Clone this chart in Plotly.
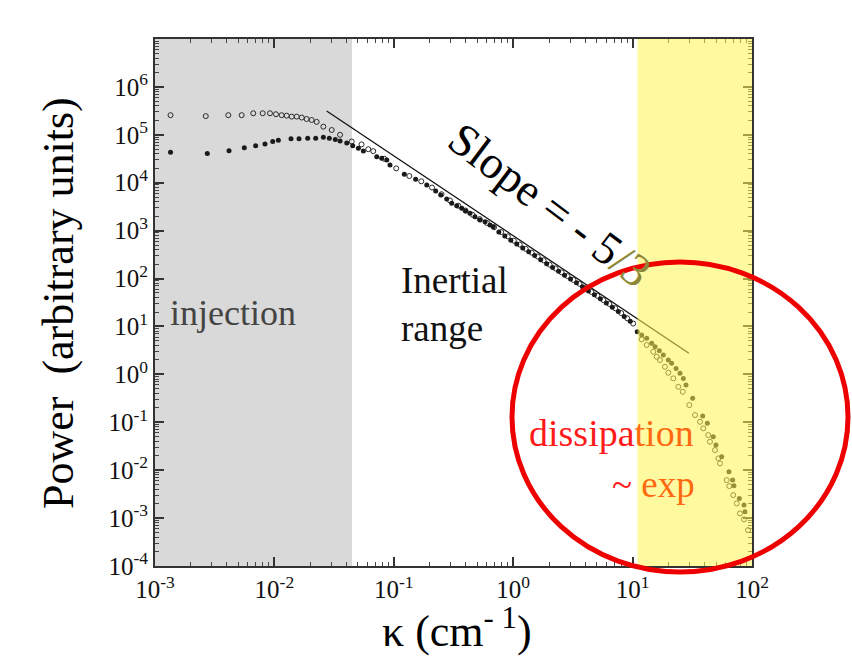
import numpy as np
import plotly.graph_objects as go

# ---- spectra, stored as log10(kappa) / log10(power) ----
FILLED_LOG_K = [
    -2.87, -2.562, -2.38, -2.252, -2.157, -2.079, -2.014, -1.967, -1.861, -1.794,
    -1.721, -1.654, -1.59, -1.54, -1.49, -1.45, -1.394, -1.344, -1.297, -1.255,
    -1.143, -1.101, -1.059, -1.032, -0.912, -0.817, -0.724, -0.649, -0.607, -0.557,
    -0.515, -0.473, -0.431, -0.398, -0.362, -0.320, -0.278, -0.236, -0.194, -0.167,
    -0.12, -0.07, -0.02, 0.03, 0.08, 0.13, 0.18, 0.23, 0.28, 0.33,
    0.38, 0.43, 0.48, 0.53, 0.58, 0.63, 0.68, 0.73, 0.78, 0.83,
    0.88, 0.93, 0.98,
    1.039, 1.076, 1.118, 1.160, 1.188, 1.224, 1.257, 1.299, 1.327, 1.364,
    1.397, 1.425, 1.447, 1.503, 1.587, 1.626, 1.676, 1.698, 1.746, 1.807,
    1.838, 1.849, 1.894, 1.933, 1.941,
]
FILLED_LOG_P = [
    4.635, 4.61, 4.67, 4.73, 4.77, 4.81, 4.86, 4.885, 4.92, 4.92,
    4.93, 4.93, 4.95, 4.93, 4.90, 4.87, 4.83, 4.77, 4.72, 4.66,
    4.543, 4.509, 4.474, 4.37, 4.175, 4.071, 3.952, 3.827, 3.743, 3.660,
    3.570, 3.520, 3.466, 3.409, 3.361, 3.290, 3.221, 3.186, 3.117, 3.081,
    2.97, 2.89, 2.80, 2.72, 2.64, 2.56, 2.48, 2.39, 2.31, 2.23,
    2.15, 2.07, 1.99, 1.91, 1.83, 1.74, 1.66, 1.58, 1.49, 1.40,
    1.31, 1.21, 1.11,
    0.889, 0.820, 0.752, 0.647, 0.576, 0.493, 0.403, 0.299, 0.230, 0.125,
    0.021, -0.084, -0.223, -0.501, -0.871, -1.023, -1.303, -1.476, -1.720, -2.033,
    -2.207, -2.326, -2.589, -2.729, -2.868,
]

OPEN_LOG_K = [
    -2.87, -2.575, -2.386, -2.274, -2.177, -2.098, -2.037, -1.987, -1.939, -1.897,
    -1.855, -1.813, -1.771, -1.73, -1.688, -1.646, -1.59, -1.52, -1.45, -1.353,
    -1.27, -1.214, -1.172,
    -1.08, -0.98, -0.87, -0.77, -0.68, -0.60, -0.53, -0.46, -0.40, -0.34,
    -0.28, -0.22, -0.16, -0.10, -0.045, 0.005, 0.055, 0.105, 0.155, 0.205,
    0.255, 0.305, 0.355, 0.405, 0.455, 0.505, 0.555, 0.605, 0.655, 0.705,
    0.755, 0.805, 0.855, 0.905, 0.955, 1.005,
    1.076, 1.118, 1.173, 1.202, 1.229, 1.271, 1.299, 1.341, 1.383, 1.420,
    1.475, 1.523, 1.565, 1.592, 1.634, 1.648, 1.690, 1.718, 1.732, 1.788,
    1.810, 1.843, 1.872, 1.899, 1.933, 1.967,
]
OPEN_LOG_P = [
    5.41, 5.39, 5.41, 5.41, 5.45, 5.45, 5.45, 5.43, 5.41, 5.40,
    5.38, 5.38, 5.36, 5.33, 5.31, 5.27, 5.17, 5.10, 5.00, 4.86,
    4.80, 4.70, 4.66,
    4.50, 4.30, 4.14, 4.03, 3.90, 3.76, 3.63, 3.52, 3.42, 3.33,
    3.24, 3.16, 3.07, 2.97, 2.88, 2.79, 2.71, 2.62, 2.54, 2.46,
    2.38, 2.29, 2.21, 2.13, 2.05, 1.97, 1.89, 1.80, 1.72, 1.64,
    1.55, 1.47, 1.38, 1.28, 1.17, 1.06,
    0.731, 0.612, 0.472, 0.367, 0.299, 0.159, 0.033, -0.084, -0.259, -0.363,
    -0.641, -0.850, -0.990, -1.127, -1.267, -1.407, -1.580, -1.754, -1.858, -2.207,
    -2.332, -2.520, -2.693, -2.902, -3.027, -3.251,
]

# Kolmogorov reference line: P = A * k^(-5/3)
SLOPE = -5.0 / 3.0
LINE_LOG_A = 2.894            # log10 of P at k = 1 cm^-1
LINE_K = [0.0274, 29.6]       # extent of the reference line

# shaded wavenumber bands (cm^-1)
INJECTION_BAND = [1e-3, 0.0447]
DISSIPATION_BAND = [11.0, 100.0]

X_TICKS = [-3, -2, -1, 0, 1, 2]
Y_TICKS = [-4, -3, -2, -1, 0, 1, 2, 3, 4, 5, 6]

SERIF = "Liberation Serif, Times New Roman, serif"

W, H = 852, 659
ML, MR, MT, MB = 155, 100, 39, 93
PW, PH = W - ML - MR, H - MT - MB


def fx(px):
    return (px - ML) / PW


def fy(py):
    return (H - MB - py) / PH


fk = 10 ** np.array(FILLED_LOG_K)
fp = 10 ** np.array(FILLED_LOG_P)
ok = 10 ** np.array(OPEN_LOG_K)
op = 10 ** np.array(OPEN_LOG_P)
line_k = np.array(LINE_K)
line_p = 10 ** LINE_LOG_A * line_k ** SLOPE

fig = go.Figure()
fig.add_trace(go.Scatter(
    x=ok, y=op, mode="markers",
    marker=dict(symbol="circle-open", size=5, color="#2a2a2a", line=dict(width=1)),
    showlegend=False, hoverinfo="skip"))
fig.add_trace(go.Scatter(
    x=fk, y=fp, mode="markers",
    marker=dict(symbol="circle", size=5, color="#1a1a1a"),
    showlegend=False, hoverinfo="skip"))
fig.add_trace(go.Scatter(
    x=line_k, y=line_p, mode="lines",
    line=dict(color="#111111", width=1.3),
    showlegend=False, hoverinfo="skip"))

# injection band (behind the data)
fig.add_shape(type="rect", xref="x", yref="paper",
              x0=INJECTION_BAND[0], x1=INJECTION_BAND[1],
              y0=0, y1=1, fillcolor="#d9d9d9", line_width=0, layer="below")
# dissipation band (tinted over the data)
fig.add_shape(type="rect", xref="x", yref="paper",
              x0=DISSIPATION_BAND[0], x1=DISSIPATION_BAND[1],
              y0=0, y1=1, fillcolor="rgb(255,245,80)", opacity=0.55,
              line_width=0, layer="above")
# red ellipse around the dissipation range
fig.add_shape(type="circle", xref="paper", yref="paper",
              x0=fx(512), x1=fx(848), y0=fy(572), y1=fy(262),
              line=dict(color="#ee0000", width=5), layer="above")

axis_common = dict(
    type="log", showgrid=False, zeroline=False,
    showline=True, linecolor="#333333", linewidth=2, mirror="ticks",
    ticks="inside", ticklen=9, tickwidth=1.5, tickcolor="#333333",
    tickfont=dict(family=SERIF, size=25, color="#111111"),
    minor=dict(ticks="inside", ticklen=4, tickwidth=1.2, tickcolor="#444444",
               dtick="D1", showgrid=False),
)

fig.update_xaxes(range=[-3, 2], tickvals=[10 ** v for v in X_TICKS],
                 ticktext=[f"10<sup>{v}</sup>" for v in X_TICKS], **axis_common)
fig.update_yaxes(range=[-4, 7], tickvals=[10 ** v for v in Y_TICKS],
                 ticktext=[f"10<sup>{v}</sup>" for v in Y_TICKS], **axis_common)

annotations = [
    dict(text="Power  (arbitrary units)", x=fx(58), y=fy(303), textangle=-90,
         font=dict(family=SERIF, size=44, color="#000000")),
    dict(text="κ (cm<sup>- 1</sup>)", x=fx(457), y=fy(628),
         font=dict(family=SERIF, size=44, color="#000000")),
    dict(text="injection", x=fx(168), y=fy(313), xanchor="left",
         font=dict(family=SERIF, size=36, color="#444444")),
    dict(text="Inertial<br>range", x=fx(399), y=fy(304), xanchor="left", align="left",
         font=dict(family=SERIF, size=37, color="#111111")),
    dict(text="Slope = - 5<span style='color:#8c8838'>/3</span>", x=fx(549), y=fy(205),
         textangle=37, font=dict(family=SERIF, size=46, color="#000000")),
    dict(text="dissipa<span style='color:#ff6a10'>tion</span>", x=fx(527), y=fy(433),
         xanchor="left", font=dict(family=SERIF, size=38, color="#ff1a1a")),
    dict(text="~ <span style='color:#ff6a10'>exp</span>", x=fx(610), y=fy(484),
         xanchor="left", font=dict(family=SERIF, size=37, color="#ff1a1a")),
]
for a in annotations:
    a.setdefault("xanchor", "center")
    a.update(xref="paper", yref="paper", showarrow=False, yanchor="middle")
fig.update_layout(annotations=annotations)

fig.update_layout(
    width=W, height=H,
    margin=dict(l=ML, r=MR, t=MT, b=MB, pad=0),
    paper_bgcolor="white", plot_bgcolor="white",
    showlegend=False,
)

fig.write_html("out.html")
